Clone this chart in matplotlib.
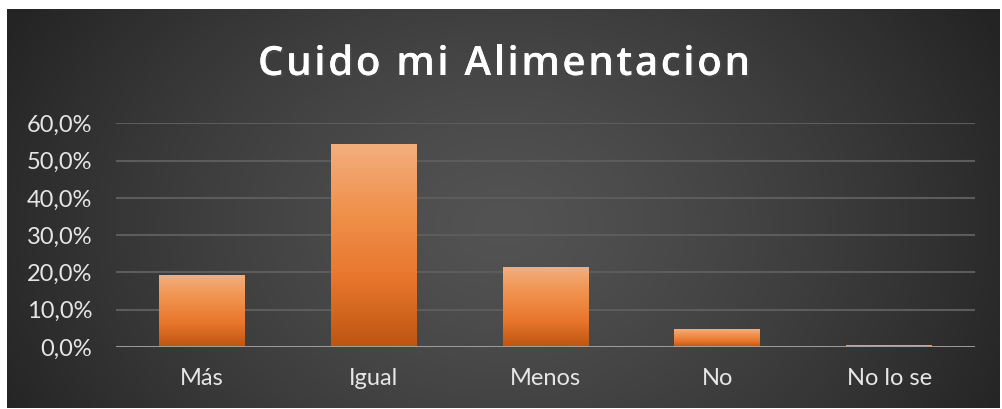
import matplotlib.pyplot as plt
import numpy as np
from matplotlib import patheffects
from matplotlib.colors import LinearSegmentedColormap
from matplotlib.font_manager import FontProperties

# chart data
categories = ["Más", "Igual", "Menos", "No", "No lo se"]
values = [19.1, 54.3, 21.3, 4.6, 0.3]
yticks = [0, 10, 20, 30, 40, 50, 60]
ytick_labels = ["0,0%", "10,0%", "20,0%", "30,0%", "40,0%", "50,0%", "60,0%"]
title = "Cuido mi Alimentacion"

W, H = 1002, 409
fig = plt.figure(figsize=(W / 100, H / 100), dpi=100, facecolor="white")

# dark radial background, inset a bit inside the white page
bx0, bx1, by0, by1 = 7, 1000, 9, 408
bg = fig.add_axes([bx0 / W, 1 - by1 / H, (bx1 - bx0) / W, (by1 - by0) / H])
bg.axis("off")
yy, xx = np.mgrid[0:by1 - by0, 0:bx1 - bx0]
r = np.sqrt(((xx - 495) / 560) ** 2 + ((yy - 215) / 420) ** 2)
r = np.clip(r, 0, 1)
shade = (0x53 - (0x53 - 0x24) * r ** 1.3) / 255
bg.imshow(np.dstack([shade] * 3), aspect="auto", extent=[0, 1, 0, 1])
bg.set_xlim(0, 1)
bg.set_ylim(0, 1)

ax = fig.add_axes([116 / W, 1 - 347 / H, (975 - 116) / W, (347 - 123.3) / H])
ax.patch.set_alpha(0)

x = np.arange(len(categories))
bars = ax.bar(x, values, width=0.5, color="none", zorder=3)

bar_cmap = LinearSegmentedColormap.from_list(
    "bar", ["#bd5510", "#e8762c", "#f0914c", "#f3ae7e"])
grad = np.linspace(0, 1, 256).reshape(-1, 1)
for b in bars:
    x0 = b.get_x()
    ax.imshow(grad, cmap=bar_cmap, origin="lower", aspect="auto", zorder=3,
              extent=[x0, x0 + b.get_width(), 0, b.get_height()])

ax.set_xlim(-0.5, len(categories) - 0.5)
ax.set_ylim(0, 60)
ax.set_yticks(yticks)
ax.set_yticklabels(ytick_labels)
ax.set_xticks(x)
ax.set_xticklabels(categories)

for v in yticks[1:]:
    ax.axhline(v, color="#5c5c5c", lw=1.5, zorder=1)
ax.axhline(0, color="#a6a6a6", lw=2, zorder=4)

for s in ax.spines.values():
    s.set_visible(False)
ax.tick_params(length=0, colors="#e6e6e6", labelsize=17)
ax.tick_params(axis="y", pad=17)
ax.tick_params(axis="x", pad=15)
for lab in ax.get_xticklabels() + ax.get_yticklabels():
    lab.set_fontfamily("Lato")

# title with letter spacing, drawn char by char
fp = FontProperties(family="Open Sans", weight="semibold", size=29)
renderer = fig.canvas.get_renderer()
widths = []
for ch in title:
    w, h, d = renderer.get_text_width_height_descent(ch, fp, ismath=False)
    widths.append(w)
t_left, t_right, t_base = 258, 750, 75
spacing = (t_right - t_left - sum(widths)) / (len(title) - 1)
xpos = t_left
shadow = [patheffects.withSimplePatchShadow(offset=(1.5, -1.5), alpha=0.6),
          patheffects.Normal()]
for ch, w in zip(title, widths):
    if ch != " ":
        fig.text(xpos / W, 1 - t_base / H, ch, ha="left", va="baseline",
                 color="white", fontproperties=fp, path_effects=shadow)
    xpos += w + spacing

fig.savefig("out.png", dpi=100, facecolor="white")
